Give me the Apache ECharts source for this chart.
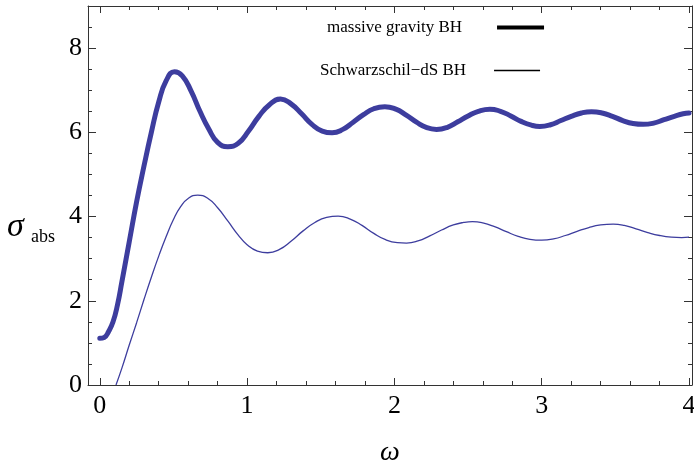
<!DOCTYPE html>
<html>
<head>
<meta charset="utf-8">
<script src="https://cdn.jsdelivr.net/npm/echarts@6/dist/echarts.min.js"></script>
<style>html,body{margin:0;padding:0;background:#fff;}#c{width:694px;height:463px;}</style>
</head>
<body>
<div id="c"></div>
<script>
// ---- data ----
var massiveOmega = [0, 0.03, 0.06, 0.09, 0.12, 0.15, 0.2, 0.25, 0.3, 0.35, 0.4, 0.45, 0.507, 0.56, 0.62, 0.68, 0.74, 0.8, 0.869, 0.94, 1.01, 1.08, 1.15, 1.227, 1.30, 1.37, 1.44, 1.51, 1.577, 1.65, 1.72, 1.79, 1.86, 1.935, 2.01, 2.08, 2.15, 2.22, 2.286, 2.36, 2.43, 2.50, 2.57, 2.648, 2.72, 2.79, 2.86, 2.93, 2.987, 3.06, 3.13, 3.20, 3.27, 3.338, 3.41, 3.48, 3.55, 3.62, 3.689, 3.76, 3.83, 3.90, 3.96, 4.0];
var massiveSigma = [1.11, 1.13, 1.27, 1.5, 1.9, 2.45, 3.4, 4.35, 5.2, 6.0, 6.72, 7.22, 7.44, 7.34, 6.98, 6.5, 6.08, 5.76, 5.66, 5.74, 6.03, 6.38, 6.65, 6.79, 6.67, 6.44, 6.19, 6.03, 5.99, 6.07, 6.24, 6.42, 6.56, 6.61, 6.55, 6.41, 6.24, 6.11, 6.07, 6.12, 6.25, 6.39, 6.50, 6.55, 6.50, 6.39, 6.26, 6.17, 6.14, 6.18, 6.28, 6.38, 6.46, 6.49, 6.46, 6.38, 6.28, 6.21, 6.19, 6.22, 6.30, 6.38, 6.44, 6.46];
var sdsOmega = [0.11, 0.15, 0.2, 0.25, 0.3, 0.35, 0.4, 0.45, 0.5, 0.55, 0.6, 0.665, 0.73, 0.8, 0.87, 0.94, 1.0, 1.07, 1.14, 1.22, 1.3, 1.38, 1.46, 1.54, 1.618, 1.7, 1.78, 1.86, 1.94, 2.02, 2.082, 2.16, 2.24, 2.32, 2.40, 2.47, 2.53, 2.60, 2.68, 2.76, 2.84, 2.92, 3.0, 3.08, 3.16, 3.24, 3.32, 3.40, 3.485, 3.56, 3.64, 3.72, 3.80, 3.88, 3.95, 4.0];
var sdsSigma = [0, 0.4, 0.95, 1.48, 2.03, 2.56, 3.06, 3.52, 3.93, 4.24, 4.43, 4.51, 4.44, 4.21, 3.89, 3.56, 3.33, 3.18, 3.14, 3.22, 3.42, 3.66, 3.86, 3.98, 4.01, 3.94, 3.79, 3.60, 3.45, 3.38, 3.37, 3.42, 3.54, 3.68, 3.80, 3.86, 3.88, 3.85, 3.76, 3.64, 3.53, 3.46, 3.44, 3.47, 3.55, 3.65, 3.74, 3.80, 3.82, 3.79, 3.71, 3.62, 3.55, 3.51, 3.50, 3.51];
var seriesNames = ['massive gravity BH', 'Schwarzschil\u2212dS BH'];
var xMajorTicks = [0, 1, 2, 3, 4];
var xMinorTicks = [0.2, 0.4, 0.6, 0.8, 1.2, 1.4, 1.6, 1.8, 2.2, 2.4, 2.6, 2.8, 3.2, 3.4, 3.6, 3.8];
var yMajorTicks = [0, 2, 4, 6, 8];
var yMinorTicks = [0.5, 1, 1.5, 2.5, 3, 3.5, 4.5, 5, 5.5, 6.5, 7, 7.5, 8.5];
var xRange = [-0.08, 4.02];
var yRange = [0, 9];

function pairs(xs, ys) { return xs.map(function (x, i) { return [x, ys[i]]; }); }

var FONT = '"Liberation Serif", "Times New Roman", serif';
var FRAME = '#333';

function xAxisDef(pos, ticks, len, showLine, showLabel) {
  return {
    type: 'value', position: pos, min: xRange[0], max: xRange[1],
    axisLine: { show: showLine, onZero: false, lineStyle: { color: FRAME, width: 1 } },
    axisTick: { show: true, inside: true, length: len, customValues: ticks, lineStyle: { color: FRAME, width: 1 } },
    axisLabel: { show: showLabel, customValues: ticks, margin: 8, color: '#000', fontFamily: FONT, fontSize: 26 },
    splitLine: { show: false }
  };
}
function yAxisDef(pos, ticks, len, showLine, showLabel) {
  return {
    type: 'value', position: pos, min: yRange[0], max: yRange[1],
    axisLine: { show: showLine, onZero: false, lineStyle: { color: FRAME, width: 1 } },
    axisTick: { show: true, inside: true, length: len, customValues: ticks, lineStyle: { color: FRAME, width: 1 } },
    axisLabel: { show: showLabel, customValues: ticks, margin: 6, color: '#000', fontFamily: FONT, fontSize: 26 },
    splitLine: { show: false }
  };
}

var chart = echarts.init(document.getElementById('c'), null, { renderer: 'canvas' });
var xMain = xAxisDef('bottom', xMajorTicks, 7, true, true);
xMain.name = '\u03c9';
xMain.nameLocation = 'middle';
xMain.nameGap = 54;
xMain.nameTextStyle = { fontFamily: FONT, fontStyle: 'italic', fontSize: 28, color: '#000' };

chart.setOption({
  animation: false,
  backgroundColor: '#fff',
  grid: { left: 88, top: 6, right: 2, bottom: 78, containLabel: false, outerBoundsMode: 'none' },
  xAxis: [
    xMain,
    xAxisDef('bottom', xMinorTicks, 4, false, false),
    xAxisDef('top', xMajorTicks, 7, true, false),
    xAxisDef('top', xMinorTicks, 4, false, false)
  ],
  yAxis: [
    yAxisDef('left', yMajorTicks, 8, true, true),
    yAxisDef('left', yMinorTicks, 4, false, false),
    yAxisDef('right', yMajorTicks, 8, true, false),
    yAxisDef('right', yMinorTicks, 4, false, false)
  ],
  legend: [
    {
      data: [{ name: seriesNames[0], icon: 'rect', itemStyle: { color: '#000' } }],
      left: 327, top: 19, padding: 0, align: 'right',
      itemWidth: 47, itemHeight: 4, selectedMode: false,
      textStyle: { fontFamily: FONT, fontSize: 17, color: '#000', lineHeight: 16, padding: [0, 30, 0, 0] }
    },
    {
      data: [{ name: seriesNames[1], icon: 'rect', itemStyle: { color: '#000' } }],
      left: 320, top: 62, padding: 0, align: 'right',
      itemWidth: 46, itemHeight: 1.5, selectedMode: false,
      textStyle: { fontFamily: FONT, fontSize: 17, color: '#000', lineHeight: 16, padding: [0, 23, 0, 0] }
    }
  ],
  graphic: [
    { type: 'text', left: 7, top: 210, style: { text: '\u03c3', font: 'italic 34px ' + FONT, fill: '#000' } },
    { type: 'text', left: 31, top: 228, style: { text: 'abs', font: '18px ' + FONT, fill: '#000' } }
  ],
  series: [
    {
      name: seriesNames[0], type: 'line', xAxisIndex: 0, yAxisIndex: 0,
      data: pairs(massiveOmega, massiveSigma), smooth: 0.5, showSymbol: false, clip: true,
      lineStyle: { color: '#3d3d9e', width: 5, cap: 'round', join: 'round' }, itemStyle: { color: '#3d3d9e' }
    },
    {
      name: seriesNames[1], type: 'line', xAxisIndex: 0, yAxisIndex: 0,
      data: pairs(sdsOmega, sdsSigma), smooth: 0.5, showSymbol: false, clip: true,
      lineStyle: { color: '#3d3d9e', width: 1.3 }, itemStyle: { color: '#3d3d9e' }
    }
  ]
});
</script>
</body>
</html>
